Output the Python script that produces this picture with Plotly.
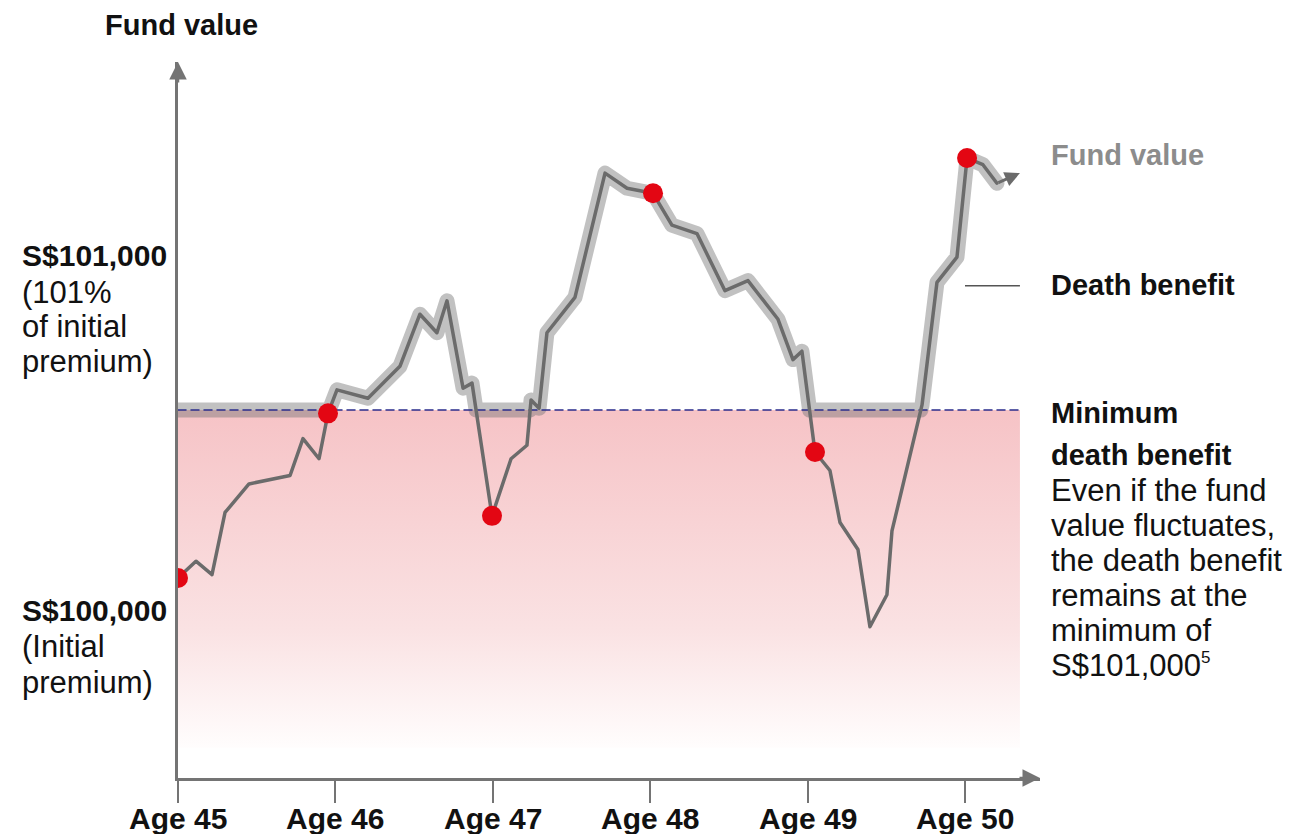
import plotly.graph_objects as go

# ---------------- data ----------------
ages = [45.000, 45.114, 45.216, 45.299, 45.451, 45.712, 45.794, 45.896, 45.953,
        46.010, 46.207, 46.410, 46.537, 46.645, 46.709, 46.811, 46.868, 46.995,
        47.116, 47.217, 47.243, 47.294, 47.344, 47.522, 47.713, 47.853, 48.018,
        48.138, 48.297, 48.475, 48.621, 48.812, 48.907, 48.964, 49.047, 49.142,
        49.206, 49.320, 49.396, 49.504, 49.536, 49.727, 49.822, 49.949, 50.013,
        50.114, 50.203]
fund_value = [100000, 100100, 100020, 100390, 100560, 100610, 100830, 100710, 100980,
              101120, 101070, 101260, 101570, 101460, 101650, 101130, 101160, 100370,
              100710, 100790, 101060, 101010, 101460, 101670, 102410, 102320, 102290,
              102100, 102050, 101710, 101770, 101540, 101300, 101350, 100750, 100640,
              100330, 100170, 99710, 99900, 100280, 101030, 101760, 101910, 102500,
              102460, 102350]
arrow_tip = (50.349, 102410)

dot_ages = [45.000, 45.953, 46.995, 48.018, 49.047, 50.013]
dot_values = [100000, 100980, 100370, 102290, 100750, 102500]

min_death_benefit = 101000
fill_bottom = 98990
line_end_age = 50.349
legend_db_value = 101740

tick_vals = [45, 46, 47, 48, 49, 50]
tick_text = ["Age 45", "Age 46", "Age 47", "Age 48", "Age 49", "Age 50"]

# ---------------- layout constants ----------------
W, H = 1291, 834
ML, MR, MT, MB = 178, 251, 62, 56
PW, PH = W - ML - MR, H - MT - MB
PX_PER_YEAR = 157.4
X_RANGE = [45, 45 + PW / PX_PER_YEAR]
Y_RANGE = [100000 - (778 - 578) / 0.168, 100000 + (578 - 62) / 0.168]

FONT = "Liberation Sans, Arial, Helvetica, sans-serif"
AXIS_GREY = "#747474"
LINE_GREY = "#6b6b6b"


def px2paper(px, py):
    return (px - ML) / PW, (H - MB - py) / PH


# death benefit = max(fund value, minimum), with crossing points
db_x, db_y = [], []
for i in range(len(ages)):
    if i > 0:
        v0, v1 = fund_value[i - 1], fund_value[i]
        if (v0 - min_death_benefit) * (v1 - min_death_benefit) < 0:
            t = (min_death_benefit - v0) / (v1 - v0)
            db_x.append(ages[i - 1] + t * (ages[i] - ages[i - 1]))
            db_y.append(min_death_benefit)
    db_x.append(ages[i])
    db_y.append(max(fund_value[i], min_death_benefit))

fig = go.Figure()

# pink gradient area under the minimum death benefit
fig.add_trace(go.Scatter(
    x=[ages[0], line_end_age, line_end_age, ages[0], ages[0]],
    y=[min_death_benefit, min_death_benefit, fill_bottom, fill_bottom, min_death_benefit],
    mode="lines", line=dict(width=0), fill="toself",
    fillgradient=dict(type="vertical",
                      colorscale=[[0, "rgb(255,253,253)"], [0.35, "rgb(250,226,227)"],
                                  [1, "rgb(246,195,198)"]]),
    hoverinfo="skip", showlegend=False))

# death benefit (thick translucent grey band)
fig.add_trace(go.Scatter(
    x=db_x, y=db_y, mode="lines",
    line=dict(color="rgba(118,118,118,0.45)", width=15),
    hoverinfo="skip", showlegend=False))

# minimum death benefit dashed line
fig.add_trace(go.Scatter(
    x=[ages[0], line_end_age], y=[min_death_benefit, min_death_benefit], mode="lines",
    line=dict(color="#2a2d8c", width=1.5, dash="8px,5px"),
    hoverinfo="skip", showlegend=False))

# fund value line
fig.add_trace(go.Scatter(
    x=ages, y=fund_value, mode="lines",
    line=dict(color=LINE_GREY, width=3.5),
    hoverinfo="skip", showlegend=False))

# red dots
fig.add_trace(go.Scatter(
    x=dot_ages, y=dot_values, mode="markers",
    marker=dict(color="#e30613", size=20, line=dict(width=0)),
    hoverinfo="skip", showlegend=False))

# legend line for "Death benefit"
fig.add_shape(type="line", xref="x", yref="y",
              x0=50.0, x1=line_end_age, y0=legend_db_value, y1=legend_db_value,
              line=dict(color="#555555", width=1.5))

annotations = []

# fund value arrow end
annotations.append(dict(x=arrow_tip[0], y=arrow_tip[1], ax=ages[-1], ay=fund_value[-1],
                        xref="x", yref="y", axref="x", ayref="y", text="",
                        showarrow=True, arrowhead=2, arrowsize=1.0, arrowwidth=3,
                        arrowcolor=LINE_GREY))
# axis arrows
annotations.append(dict(x=45, y=1.0, xref="x", yref="paper", ax=0, ay=22, text="",
                        showarrow=True, arrowhead=2, arrowsize=1.4, arrowwidth=2.5,
                        arrowcolor=AXIS_GREY))
annotations.append(dict(x=1.0, y=Y_RANGE[0], xref="paper", yref="y", ax=-22, ay=0, text="",
                        showarrow=True, arrowhead=2, arrowsize=1.4, arrowwidth=2.5,
                        arrowcolor=AXIS_GREY))

# x tick labels placed through the x axis scale
label_y = px2paper(0, 818)[1]
for tv, tt in zip(tick_vals, tick_text):
    annotations.append(dict(x=tv, y=label_y, xref="x", yref="paper",
                            xanchor="center", yanchor="middle", showarrow=False,
                            text=f"<b>{tt}</b>",
                            font=dict(family=FONT, size=30, color="#111111")))


def add_text(txt, px, py, bold=False, color="#111111", size=None):
    x, y = px2paper(px, py)
    if size is None:
        size = 29 if bold else 31
    annotations.append(dict(
        x=x, y=y, xref="paper", yref="paper", xanchor="left", yanchor="middle",
        text=f"<b>{txt}</b>" if bold else txt, showarrow=False,
        font=dict(family=FONT, size=size, color=color)))


add_text("Fund value", 103, 25, bold=True)

add_text("S$101,000", 20, 256, bold=True, size=30)
add_text("(101%", 20, 292)
add_text("of initial", 20, 327)
add_text("premium)", 20, 361)

add_text("S$100,000", 20, 610, bold=True, size=30)
add_text("(Initial", 20, 646)
add_text("premium)", 20, 682)

add_text("Fund value", 1049, 155, bold=True, color="#8c8c8c")
add_text("Death benefit", 1049, 285, bold=True)
add_text("Minimum", 1049, 413, bold=True)
add_text("death benefit", 1049, 455, bold=True)
add_text("Even if the fund", 1049, 490)
add_text("value fluctuates,", 1049, 525)
add_text("the death benefit", 1049, 560)
add_text("remains at the", 1049, 595)
add_text("minimum of", 1049, 630)
add_text("S$101,000<sup><span style='font-size:17px'>5</span></sup>", 1049, 665)

fig.update_layout(
    width=W, height=H,
    margin=dict(l=ML, r=MR, t=MT, b=MB, autoexpand=False),
    paper_bgcolor="white", plot_bgcolor="white",
    showlegend=False,
    annotations=annotations,
    xaxis=dict(range=X_RANGE, showgrid=False, zeroline=False, automargin=False,
               showline=True, linecolor=AXIS_GREY, linewidth=2.5,
               ticks="outside", ticklen=22, tickwidth=2, tickcolor=AXIS_GREY,
               tickvals=tick_vals, showticklabels=False,
               fixedrange=True),
    yaxis=dict(range=Y_RANGE, showgrid=False, zeroline=False, automargin=False,
               showline=True, linecolor=AXIS_GREY, linewidth=2.5,
               showticklabels=False, ticks="", fixedrange=True),
)

post = """
document.body.style.margin='0';
document.body.style.padding='0';
document.querySelectorAll('.js-line').forEach(function(p){p.style.strokeLinejoin='round';p.style.strokeLinecap='round';});
"""

fig.write_html("out.html", post_script=post, config={"displayModeBar": False})
